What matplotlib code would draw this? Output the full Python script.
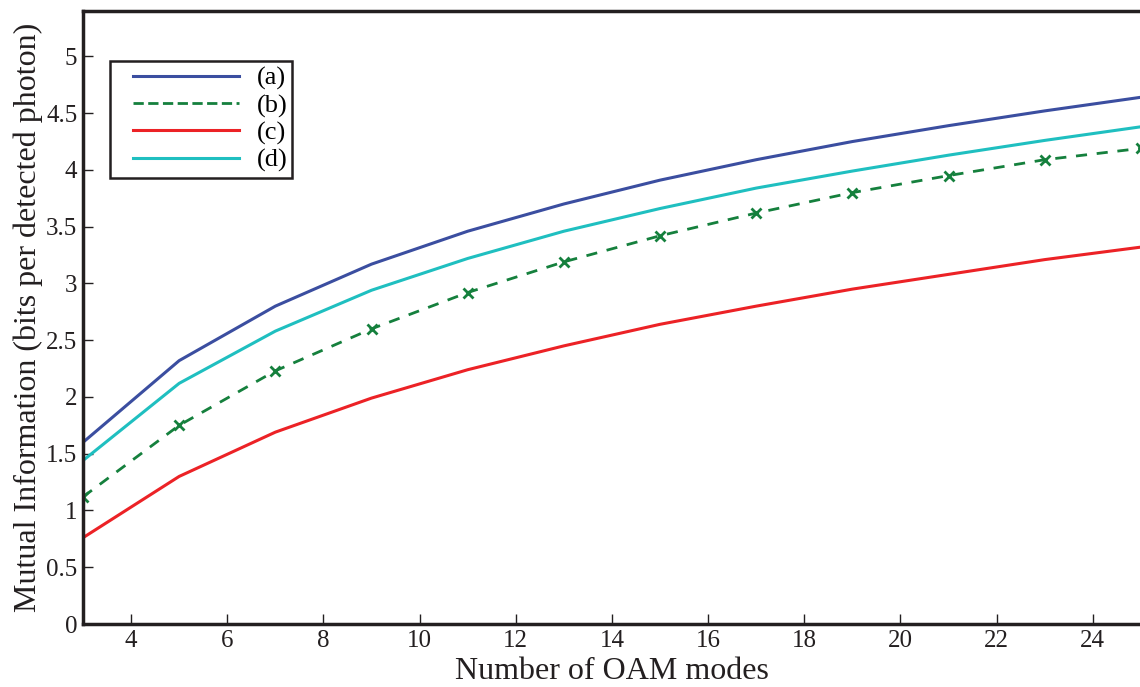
import matplotlib
matplotlib.use('Agg')
import numpy as np
import matplotlib.pyplot as plt
from matplotlib.lines import Line2D
from matplotlib.legend_handler import HandlerLine2D

plt.rcParams['font.family'] = ['Liberation Serif', 'DejaVu Serif']
plt.rcParams['mathtext.fontset'] = 'stix'

# OAM modes used in the simulation
modes = [3, 5, 7, 9, 11, 13, 15, 17, 19, 21, 23, 25]

# mutual information per case (bits per detected photon)
mi_a = [1.60, 2.32, 2.80, 3.17, 3.46, 3.70, 3.91, 4.09, 4.25, 4.39, 4.52, 4.64]
mi_b = [1.12, 1.75, 2.23, 2.60, 2.92, 3.19, 3.42, 3.62, 3.80, 3.95, 4.09, 4.19]
mi_c = [0.76, 1.30, 1.69, 1.99, 2.24, 2.45, 2.64, 2.80, 2.95, 3.08, 3.21, 3.32]
mi_d = [1.44, 2.12, 2.58, 2.94, 3.22, 3.46, 3.66, 3.84, 3.99, 4.13, 4.26, 4.38]

labels = ['(a)', '(b)', '(c)', '(d)']
xticks = [4, 6, 8, 10, 12, 14, 16, 18, 20, 22, 24]
yticks = [0, 0.5, 1, 1.5, 2, 2.5, 3, 3.5, 4, 4.5, 5]
ytick_labels = ['0', '0.5', '1', '1.5', '2', '2.5', '3', '3.5', '4', '4.5', '5']


class IndentedLine(HandlerLine2D):
    # legend line that starts a bit right of the handle box
    def create_artists(self, legend, orig_handle, xdescent, ydescent, width,
                       height, fontsize, trans):
        arts = super().create_artists(legend, orig_handle, xdescent, ydescent,
                                      width, height, fontsize, trans)
        for a in arts:
            xd = np.asarray(a.get_xdata(), dtype=float)
            if len(xd) > 1:
                a.set_xdata(np.linspace(xd[0] + 0.145 * width, xd[-1], len(xd)))
        return arts


fig = plt.figure(figsize=(11.4, 6.87), dpi=100)
ax = fig.add_axes([0.0728, 0.0917, 0.928, 0.8923])

ax.plot(modes, mi_a, color='#3b4ea0', lw=2.2, label=labels[0])
ax.plot(modes, mi_b, color='#15803d', lw=2.0, ls=(0, (4, 3.5)), marker='x',
        ms=7, mew=2, label=labels[1])
ax.plot(modes, mi_c, color='#ec2226', lw=2.2, label=labels[2])
ax.plot(modes, mi_d, color='#1fbfc0', lw=2.2, label=labels[3])

ax.set_xlim(3, 25)
ax.set_ylim(0, 5.4)
ax.set_xticks(xticks)
ax.set_yticks(yticks)
ax.set_yticklabels(ytick_labels)
ax.tick_params(direction='in', length=7, width=1, labelsize=18, colors='#231f20',
               top=False, right=False, pad=4)

for side in ['left', 'bottom', 'top']:
    ax.spines[side].set_linewidth(2.5)
    ax.spines[side].set_color('#231f20')
ax.spines['right'].set_visible(False)

ax.set_xlabel('Number of OAM modes', fontsize=23, color='#231f20', labelpad=4)
ax.set_ylabel('Mutual Information (bits per detected photon)', fontsize=23,
              color='#231f20', labelpad=2)

# legend handles drawn without the marker on (b)
handles, _ = ax.get_legend_handles_labels()
leg_handles = [Line2D([], [], color=h.get_color(), lw=h.get_linewidth(), ls=h.get_linestyle())
               for h in handles]
leg = ax.legend(leg_handles, labels, loc='upper left', bbox_to_anchor=(0.0255, 0.918),
                fontsize=19, handlelength=4.7, handletextpad=0.65, labelspacing=0.13,
                borderpad=0.2, borderaxespad=0, fancybox=False, framealpha=1,
                edgecolor='#231f20', handler_map={Line2D: IndentedLine()})
leg.get_frame().set_linewidth(1.8)

fig.savefig('out.png', dpi=100)
